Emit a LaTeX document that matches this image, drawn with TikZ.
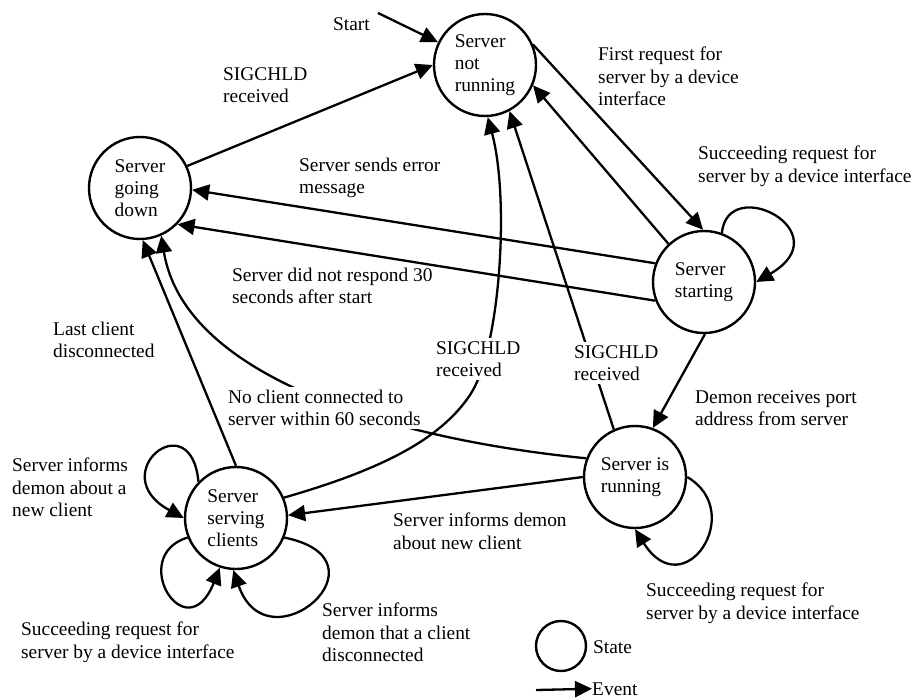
\documentclass[tikz,border=0pt]{standalone}
\usepackage{fontspec}
\setmainfont{Liberation Serif}
\usetikzlibrary{arrows.meta}
\begin{document}
\begin{tikzpicture}[x=1pt,y=-1pt,
  font=\fontsize{19.4}{22.3}\selectfont,
  state/.style={draw, circle, line width=2.4pt, minimum size=102pt, inner sep=0pt, align=left},
  ev/.style={line width=2.3pt, -{Triangle[length=17pt,width=16pt]}},
  lab/.style={align=left, anchor=north west, inner sep=0pt},
  cut/.style={align=left, anchor=north west, inner sep=3pt, fill=white}]
\useasboundingbox (0,0) rectangle (913,698);

% states
\node[state] (nr)    at (485,65)  {Server\\not\\running};
\node[state] (down)  at (140,188) {Server\\going\\down};
\node[state] (st)    at (704,282) {Server\\starting};
\node[state] (serve) at (236,518) {Server\\serving\\clients};
\node[state] (run)   at (635,477) {Server is\\running};

% initial transition
\coordinate (s0) at (378,13);
\draw[ev] (s0) -- (nr);

% transitions
\draw[ev] (down.25) -- (nr.180);
\draw[ev] (nr.23) -- (st.91);
\draw[ev] (st.133) -- (nr.-23);
\draw[ev] (st.70) .. controls (728,173) and (842,232) .. (st.0);
\draw[ev] (st.159) -- (down.-2);
\draw[ev] (st.201) -- (down.-44);
\draw[ev] (st.-89) -- (run.70);
\draw[ev] (serve.90) -- (down.-87);
\draw[ev] (run.159) .. controls (400,440) and (185,380) .. (down.-66);
\draw[ev] (serve.23) .. controls (380,470) and (440,440) .. (470,395)
          .. controls (500,350) and (510,200) .. (nr.-87);
\draw[ev] (run.114) -- (nr.-62);
\draw[ev] (run.180) -- (serve.3);
\draw[ev] (run.0) .. controls (747,512) and (684,607) .. (run.-90);
\draw[ev] (serve.136) .. controls (191,402) and (103,474) .. (serve.180);
\draw[ev] (serve.202) .. controls (127,556) and (186,652) .. (serve.-108);
\draw[ev] (serve.-22) .. controls (395,560) and (268,670) .. (serve.-93);

% event labels
\node[lab] (lstart) at (333,17)  {Start};
\node[lab] (l1) at (223,67)  {SIGCHLD\\received};
\node[lab] (l2) at (299,158) {Server sends error\\message};
\node[lab] (l3) at (232,268) {Server did not respond 30\\seconds after start};
\node[lab] (l4) at (53,322)  {Last client\\disconnected};
\node[lab] (l5) at (598,47)  {First request for\\server by a device\\interface};
\node[lab] (l6) at (698,146) {Succeeding request for\\server by a device interface};
\node[cut] (l7) at (225,387) {No client connected to\\server within 60 seconds};
\node[lab] (l8) at (12,458)  {Server informs\\demon about a\\new client};
\node[lab] (l9) at (21,622)  {Succeeding request for\\server by a device interface};
\node[lab] (l10) at (322,603) {Server informs\\demon that a client\\disconnected};
\node[lab] (l11) at (393,513) {Server informs demon\\about new client};
\node[cut] (l12) at (571,342) {SIGCHLD\\received};
\node[lab] (l13) at (695,390) {Demon receives port\\address from server};
\node[lab] (l14) at (646,583) {Succeeding request for\\server by a device interface};
\node[cut] (l15) at (433,338) {SIGCHLD\\received};

% legend
\node[draw, circle, line width=2.4pt, minimum size=50pt, inner sep=0pt] (legstate) at (561,646) {};
\node[lab, anchor=base west] (legstatetext) at (593,653) {State};
\node[lab, anchor=base west] (legevent) at (592,695) {Event};
\coordinate (legtail) at (536,690);
\draw[ev] (legtail) -- (legevent.west);
\end{tikzpicture}
\end{document}
